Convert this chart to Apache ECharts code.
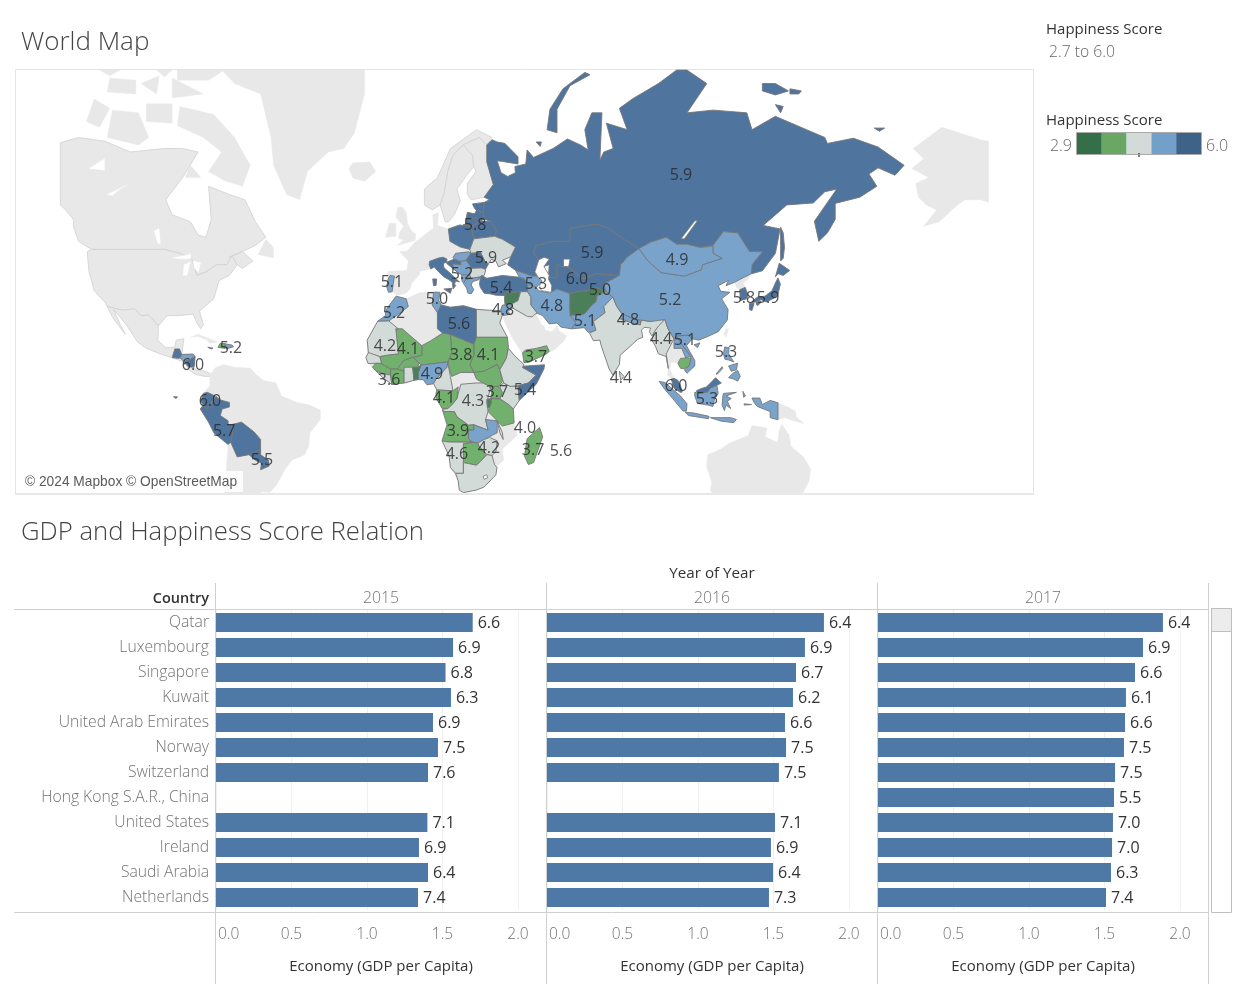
<!DOCTYPE html>
<html><head><meta charset="utf-8">
<style>html,body{margin:0;padding:0;background:#fff}#c{width:1249px;height:999px}</style>
<script src="https://cdn.jsdelivr.net/npm/echarts@6/dist/echarts.min.js"></script>
</head><body><div id="c"></div>
<script>
// ---- bar chart data ----
const countries = ['Qatar','Luxembourg','Singapore','Kuwait','United Arab Emirates','Norway','Switzerland','Hong Kong S.A.R., China','United States','Ireland','Saudi Arabia','Netherlands'];
const years = ['2015','2016','2017'];
const gdp2015 = [1.70,1.57,1.52,1.556,1.437,1.47,1.404,null,1.40,1.344,1.404,1.338];
const gdp2016 = [1.834,1.708,1.649,1.629,1.576,1.583,1.536,null,1.51,1.483,1.497,1.47];
const gdp2017 = [1.887,1.755,1.702,1.642,1.636,1.629,1.57,1.563,1.556,1.55,1.543,1.51];
const score2015 = ['6.6','6.9','6.8','6.3','6.9','7.5','7.6','','7.1','6.9','6.4','7.4'];
const score2016 = ['6.4','6.9','6.7','6.2','6.6','7.5','7.5','','7.1','6.9','6.4','7.3'];
const score2017 = ['6.4','6.9','6.6','6.1','6.6','7.5','7.5','5.5','7.0','7.0','6.3','7.4'];
const gdpTicks = [0,0.5,1,1.5,2];

// ---- map data: labels ----
const labelText = ['5.9','5.8','5.9','5.9','4.9','5.2','5.1','5.3','5.4','6.0','5.0','5.2','5.8','5.9','5.0','4.8','4.8','5.2','5.6','5.1','4.8','4.2','4.1','3.8','4.1','3.7','4.4','5.1','5.3','5.2','6.0','6.0','5.7','5.5','3.6','4.9','4.4','6.0','5.3','3.7','5.4','4.1','4.3','4.0','3.9','4.2','4.6','3.7','5.6'];
const labelLon = [103.7,24.5,28.7,69.5,102.2,19.5,-7.5,47.9,34.5,63.7,72.5,99.5,127.9,137.2,9.8,35.2,54,-6.7,18.3,66.8,83.3,-10.2,-1.3,19.1,29.5,47.9,96,105.2,121,-69.4,-84,-77.5,-72,-57.5,-8.6,7.9,80.6,101.8,113.7,32.9,43.7,12.5,23.7,43.7,17.9,29.8,17.5,46.8,57.5];
const labelLat = [64.6,55,47,48.4,46.6,42.6,40.5,39.8,38.6,41.2,38,35,35.6,35.6,35.2,31.6,33,30.8,27,28,28.4,19.2,18.2,16,16,15.2,21.8,21.4,17,18.6,12.2,-1.5,-13,-23.6,6.5,8.8,7.3,4.2,-0.8,1.9,2.7,-0.4,-1.5,-11.9,-13,-19.2,-21.4,-20,-20.4];

// ---- map data: happiness per coloured country ----
const scoredNames = ['Russia','Kazakhstan','CentralAsia','Poland','Belarus','Lithuania','Latvia','Estonia','Ukraine','Romania','Hungary','Italy','Croatia','Serbia','Albania','Greece','Bulgaria','Turkey','Caucasus','Syria','Iraq','Jordan','Yemen','Iran','Afghanistan','Pakistan','India','Nepal','SriLanka','Myanmar','Laos','Vietnam','Cambodia','China','Mongolia','SouthKorea','Japan','MalaysiaW','Sabah','Indonesia','Philippines','Portugal','Morocco','Tunisia','Libya','Egypt','Sudan','SouthSudan','Chad','Niger','Mali','Mauritania','Senegal','Guinea','Liberia','IvoryCoast','Burkina','Ghana','Benin','Nigeria','Cameroon','DRCongo','Gabon','Angola','Zambia','Malawi','Zimbabwe','Botswana','Namibia','SouthAfrica','Tanzania','Kenya','Uganda','Rwanda','Ethiopia','Somalia','Madagascar','Bolivia','Peru','Ecuador','Paraguay','Guatemala','Honduras','Nicaragua','Jamaica','Dominican','Haiti'];
const scoredValues = [5.9,5.9,6.0,5.8,5.8,5.8,5.8,5.6,4.4,5.9,5.2,5.9,5.6,5.2,5.0,5.0,4.4,5.4,5.2,3.2,4.6,5.1,3.7,4.8,3.3,5.1,4.4,4.8,4.4,4.4,5.1,5.1,3.9,5.2,4.9,5.8,5.9,6.0,5.9,5.1,5.2,5.1,5.2,5.0,5.6,4.4,4.0,3.8,3.8,4.0,4.0,4.2,4.4,3.9,4.4,3.9,4.0,4.4,3.2,4.9,4.6,4.3,4.0,3.9,5.0,4.3,4.2,3.9,4.6,4.6,3.7,4.5,3.9,3.1,4.5,5.4,3.7,5.7,5.7,6.0,5.5,6.0,5.0,6.0,5.9,5.2,3.7];
const binTops = [3.4,4.1,4.7,5.3,9];
const binFills = ['#4a7f5a','#72b06e','#d3dbd8','#7aa3cb','#4f759e'];

// ---- map outlines, longitude/latitude rings ----
const lands = {
 Canada:[[-135,69.3,-128,70,-118,69.5,-108,68,-95,68.5,-88,68.5,-82,68,-88,64,-94.5,60,-92,57,-85,55.5,-82,52.5,-79,52,-77,56,-78,62.5,-70,61,-64,60,-60,55.5,-56,52,-60,50,-70,47,-65,48.5,-61,46,-65,44,-67,45,-69,47.3,-71,45,-75,45,-79,43,-82.5,42,-84.5,46.5,-89,48,-95,49,-123,49,-128,51,-130,54.5,-130,56,-133,58,-135,59]],
 USA:[[-124.7,48.4,-123,49,-95,49,-89,48,-84.5,46.5,-82.5,42,-79,43,-75,45,-71,45,-69,47.3,-67,45,-70,42,-74,40.5,-76,35,-81.5,31,-80,26.5,-81,25,-82.5,27,-84,30,-89.5,29.5,-94,29.5,-97.3,26,-101,29.7,-104,29.5,-106.5,31.8,-111,31.3,-117,32.5,-118,34,-122,37.5,-124,43]],
 Mexico:[[-117,32.5,-111,31.3,-106.5,31.8,-104,29.5,-101,29.7,-97.3,26,-97.5,21,-94.5,18.2,-91,18.5,-90.5,21,-87.5,21.5,-88,18,-88.3,15.7,-84,15.9,-83.2,15,-83.6,11,-83,10,-79.5,9.5,-77.5,8.7,-77.5,7.5,-79.5,7.5,-83,8.3,-85.5,10,-87.5,13,-92,14.5,-96,15.8,-102,18,-105.5,20.5,-109,25.5,-112,29,-114.5,31.5,-112,26.5,-110,23,-115,29]],
 Arctic:[[-117,75.2,-106,75,-106,76.3,-116,76.5],[-92,76.5,-80,75,-92,74.6],[-104,76,-97,76.7,-98,75],[-125,72,-120,71.3,-116,73.5,-122,74.5],[-117,70,-105,69,-101,70,-105,73,-115,73.3],[-62,66,-65,62.5,-72,63.5,-78,65,-73,68,-80,70,-90,71.5,-89,73.7,-76,72.8,-68,70],[-102,72,-92,71.8,-92,74,-102,74],[-87,64,-81,64,-85,66],[-59,47.7,-53,46.8,-53,49.5,-56,51.5],[-90,76.3,-78,76.3,-72,77.2,-90,77.2],[-98,77.2,-92,77.2,-95,76.6],[-120,77.2,-112,77.2,-116,76.7]],
 Greenland:[[-73,77.2,-18,77.2,-18,75,-22,70.5,-26,68.5,-32,68,-40,65,-43,60,-48,61,-53,66,-54,70,-58,75,-68,76]],
 Iceland:[[-24,65.5,-22.5,66.4,-16,66.5,-13.7,65,-18,63.4,-22.5,63.9]],
 Alaska:[[222,59.5,219,60,213,60,210,59,203,55.5,197,54.5,202,58,198,59,195,60.5,194,63,199,64,192.5,65.5,197,67,193,68.5,204,71.3,219,69.7,222,69.5]],
 Cuba:[[-85,22,-82,23.1,-77,21.3,-74.2,20.2,-77.7,19.9,-78.5,21,-82,22.3]],
 SouthAmerica:[[-77.5,8,-75.5,10.8,-72,12,-68,11,-62,10.7,-60,8.5,-57,6,-52,5,-50,0,-44,-2.5,-39,-3.5,-35,-5.5,-35,-9,-39,-14,-39.5,-19,-41,-22,-46,-24,-48.5,-27,-52,-32.5,-54.5,-34.8,-57,-34.5,-58.5,-35,-71.8,-35,-71.5,-30,-70.5,-19,-76,-14,-81.2,-5,-80,-2.5,-80,1,-77.5,4]],
 WestEurope:[[-9,43.2,-1.8,43.4,-1.2,46,-4.6,48.4,-1.5,48.7,1.5,50.9,4,52,7,53.5,8.5,54,8.2,57,10.5,57.5,10,54.7,14.2,53.9,14.8,51,18.8,49.6,22.5,49,22,48,17,48,16,46.8,13.7,46.5,12.2,47,7,45.8,7.5,43.8,3.2,43.2,3.2,42.4,0,39.5,-0.5,38,-2,36.8,-5.5,36,-7.4,37.2,-8.8,37,-9.5,38.7]],
 Britain:[[-5.5,50,1.4,51.2,1.7,52.7,0,53.5,-1.5,55.2,-2,57.5,-3.5,58.6,-5.2,58.5,-6,56.5,-3,54.5,-4.5,53.2,-5,51.7,-3,51.3],[-10,52,-6,52.2,-6,55.2,-8.5,55.2]],
 NorwayLand:[[5,59,5,62,10,64,15,68.5,25,71,31,70,29,69,26,70,20,69,16,67.5,14,65,12.5,61,11,59,8,58]],
 SwedenLand:[[11,59,12.5,61,14,65,16,67.5,20,69,23.5,67.5,24,65.8,21.5,64.5,17.5,62,18.8,59.8,16.5,57,14.3,55.5,13,55.5]],
 FinlandLand:[[20,69,26,70,29,69,29,66.5,31.5,62.8,28,60.5,23,60,21.5,61,21.5,63,24.8,65,24,65.8,23.5,67.5]],
 Africa:[[-17,14.7,-17,21,-13,27.6,-10,29.5,-9.7,31.5,-5.9,35.8,-2,35,3,36.9,10,37.3,11,34,10.2,33.8,15,32.3,20,32.8,25,31.6,30,31.3,32.5,31.2,34.3,31.3,34.9,29.5,34,27,36.9,22,37.3,18.7,39.5,15.5,43.3,12,43,11.4,51.2,11.9,51,10.4,48,4.5,41.5,-1.7,39.2,-5,39.5,-10.3,40.7,-15,35,-20,35.5,-24,32.9,-26,32.5,-29,28,-33,25,-34,20,-34.8,18.4,-34,18,-31,15,-26.5,14.5,-22.5,11.8,-17,13.7,-11,12,-5,9.5,-1,9.5,4,8.5,4.7,6,4.3,4.5,6.3,1,6,-2,4.8,-7.5,4.4,-11,7,-13.5,9.5,-16.5,12.3]],
 Arabia:[[34.9,29.5,36.5,26,39,21.5,42.5,16.5,43.3,12.7,45,12.8,52,16,55,17.5,58.5,20.5,59.8,22.5,56.5,24.5,56.3,26.2,54,24,51.5,24.5,51,26,50,26.5,48,30,46.5,29.1,44.7,29.2,39,32,37,31,38,30]],
 Thailand:[[98.8,10.5,98,16,101,21,104,18,105.5,14.5,102.5,12.5,101,12.7,100,13,99.5,10,101,6.8,100,6.5,98.5,8]],
 NorthKorea:[[124.3,40,128,41.5,130.8,42.5,129.5,41,127.5,39.7,128.4,38.5,126.3,37.8,125,38.5]],
 Taiwan:[[120.2,23,121,25,122,25,121,22]],
 NewGuinea:[[141,-2.6,145,-4.3,147.8,-6,148,-8,151,-10.5,147,-9.5,143.5,-8.3,141,-9.1]],
 Australia:[[114,-22,113.5,-26,115.5,-31.5,115,-34.3,116,-35,150.5,-35,153,-31,153.5,-27,151,-23,146,-19,145.3,-15,142.5,-10.8,141.5,-13,140.8,-17.5,136,-15.5,136.8,-12.2,131,-11.3,129.5,-15,122,-18,119,-20]]
};
const scored = {
 Russia:[[31,69.7,33,69.4,36,69.2,41,67.3,41,66.2,35,66.6,33,66.7,34.5,64.8,37,64.2,40,64.8,39.8,65.8,44,66.2,44.5,68.3,47,67.2,54.5,68.5,60,69.8,65,69,68,68.3,66.7,71,69.4,73,73.3,73,73,71,72.5,66.8,74,68,77.6,68.5,75,71.8,83,71,80,73.5,85,74.5,95,76,102,77.2,106,77.2,113.6,76,106,73,116,73.3,129,73,131,71,140,72.6,152,71,159,70,160,69.2,170,69.9,179.5,68.7,189.5,66,186,64.4,179.5,65.6,176,64.6,179,62.5,172.5,60.5,163,59.3,163,56,160,53,156.7,51,155,55.6,163.6,62,159,61.5,154.6,59.4,144.4,59,135.3,54.7,141.8,53.9,140,48,135,43.3,130.8,42.5,131,45,135,48.4,130,48.5,125.5,53,120,53.3,116,50,111,49.5,106,50.3,102,50.3,98,52,92,50.8,87.5,49.2,83,51,77,53.5,76,54,71,55,61,54,61,51,55,51,48,50,47,48,49,46.3,47.5,43,48.5,41.8,46.5,41.8,40,43.5,37,45,38.2,47.1,40,49.6,35,51.5,32,52.2,32.7,53.4,30.8,55.5,28,56.1,27.5,57.6,28,59.5,30,60,28,60.5,31.5,62.8,29,66.5,29,69],[142,54.3,143,53,143.5,49.5,143,46.7,142,46,142,50],[52.2,71,53.3,73.4,58.3,75.5,66.7,77,68.7,76.8,61,75.8,56,73.4,56,70.6],[135,76,140,76,145,75.3,140,74.9,135,75.3],[145.6,75.5,150,75.3,149,75,145.6,75],[140,73.9,143,73.7,142,73],[48,69.4,50,69.4,49.5,68.8],[178,71.2,182,71.2,180,70.8],[20,54.9,22.5,55,22.5,54.4,20,54.4]],
 Kazakhstan:[[47,48,48,50,55,51,61,51,61,54,71,55,76,54,77,53.5,83,51,87.5,49.2,83,47,80.5,45,80,42,71,42.5,66,41,61,44,56,45,56,41.3,52.7,41.5,53,45,51,44.5,49,46.3]],
 CentralAsia:[[52.7,41.5,56,41.3,56,45,61,44,66,41,71,42.5,80,42,74,39.5,74.8,37.3,71,38.4,67,37.3,65,37.4,61,36.6,56,38,54,37.2,53,39.5]],
 Poland:[[14.2,53.9,18.5,54.8,23,54.4,24,51.6,22.5,49,18.8,49.6,14.8,51]],
 Belarus:[[23,54.4,26.5,55.7,30.8,55.5,32.7,53.4,32,52.2,24,51.6]],
 Lithuania:[[21,56,25,56.4,26.5,55.7,23,54.4,21,55.2]],
 Latvia:[[21,56,21.5,57.5,24.3,57.2,25,57.9,27.7,57.5,28,56.1,26.5,55.7,25,56.4]],
 Estonia:[[23.5,59.2,28,59.5,27.5,57.6,25,57.9,24.3,58.3]],
 Ukraine:[[22.5,49,24,51.6,32,52.2,35,51.5,40,49.6,38.2,47.1,35,46.2,36.5,45.3,33.5,44.4,32.5,46,30.7,46.4,29.6,45.2,28.2,46,26.6,48.2,22.8,48]],
 Romania:[[21,46.2,22.8,48,26.6,48.2,28.2,46,29.6,45.2,28.6,43.8,27,44.1,22.7,43.9,22.7,44.5]],
 Hungary:[[16,46.9,17,48,22,48.4,22.8,48,21,46.2,18.8,45.9,16.5,46.5]],
 Italy:[[7,45.9,10.5,46.8,12.2,47,13.7,46.5,13.5,45.7,12.3,45.3,12.5,44.2,13.6,43.5,16,41.9,18.5,40.1,17,40.4,16.6,39.5,17,39,16,38,15.7,38.2,15.8,40,14.3,40.8,12.3,41.7,10.5,43,8.8,44.4,7.5,43.8,6.8,45],[12.5,38,15.5,38.2,15,36.7],[8.2,41,9.7,41,9.5,39.1,8.5,39]],
 Croatia:[[13.6,45.3,13.6,45.7,16.5,46.5,19,45.8,19,45,16,45.2,16,44,18.5,42.5,15,44.5]],
 Serbia:[[16,45.2,19,45,19,45.8,21,46.2,22.7,44.5,22.7,43,22.5,42,20.5,42,18.5,42.5,16,44]],
 Albania:[[19.3,42.2,20.5,42.2,22.9,42,23,41.2,20.9,40.8,20,39.8,19.4,40.5]],
 Greece:[[20,39.7,20.9,40.8,23,41.2,26.3,41.6,26,40.8,23.5,40.2,23,39.2,24,37.8,23,36.5,21.7,36.8,21.2,38.3]],
 Bulgaria:[[22.7,44,27,44.1,28.6,43.6,28,42,26.3,41.6,23,41.2,22.5,42]],
 Turkey:[[26.2,39.5,26.5,41.5,27,42,29,41.2,35,42,41.5,41.5,43.5,41,44.6,39.7,44.7,37.2,42,37.2,36.5,36.8,36,36,32.5,36.1,30.5,36.5,28,36.7,26.5,38.5]],
 Caucasus:[[40,43.5,46.5,41.8,48.5,41.8,50.3,40.4,49,39.2,48,38.5,44.8,39.7,43.5,41,41.5,41.5]],
 Syria:[[36,36.8,42,37.2,41,34.4,38.8,33.4,36,33,35.8,35]],
 Iraq:[[42,37.2,44.7,37.2,46,35.5,46,33,48.5,30.3,47.5,30,46.5,29.1,44.7,29.2,39,32,38.8,33.4,41,34.4]],
 Jordan:[[34.3,31.3,35,33,36,33,38.8,33.4,39,32,37,31,38,30,35,29.5,34.9,29.5]],
 Yemen:[[42.8,16.5,43.3,12.7,45,12.8,52,16,53,17,52,19,48,18,44,17.4]],
 Iran:[[44.8,39.7,48,38.5,49,37.5,53,36.8,54,37.2,56,38,61,36.6,61,31.5,63.3,27,61.6,25,57.5,25.6,56,27,53,26.7,50.5,29.5,48.5,30.3,46,33,46,35.5,44.7,37.2]],
 Afghanistan:[[61,36.6,65,37.4,67,37.3,71,38.4,74.8,37.3,71.5,36,71,34,69.5,33,66.5,30,61,29.6,61,31.5]],
 Pakistan:[[61,29.6,66.5,30,69.5,33,71,34,71.5,36,74.8,37,77.5,35.5,74,32.5,74.5,30.5,70,27.5,71,24.5,68,23.7,66.5,25.4,61.6,25,63.3,27]],
 India:[[74,32.5,77.5,35.5,79,32.5,81,30,80,28.5,88,26.4,88.5,28,92,27.5,96,29,97,27.5,93.5,24,92.5,22.5,91.5,24,92,25.3,89.5,25.5,88.5,24.5,89,22,87,21.3,85,19.5,80.3,15.5,80,12,77.5,8,76,10.5,73,19,72.5,21,70,20.8,68.5,23.5,71,24.5,70,27.5,74.5,30.5]],
 Nepal:[[80.2,28.8,81,30.2,85,28.6,88.2,27.8,88,26.4,84,27.2]],
 SriLanka:[[80,9.5,81.8,7.5,80.5,6]],
 Myanmar:[[92.5,21,93.5,24,95,26,97.5,28.2,98.7,25,101,21.5,98,16,98.8,10.5,98,15,95,16,94,18.5]],
 Laos:[[101,21.5,102,22.3,104,19.5,107.5,15,105.5,14.5,104,18,101,18]],
 Vietnam:[[102,22.5,106.5,22.8,108,21.5,105.8,19,109,13.5,109,11.5,106,8.7,105,10,106.8,11.5,107.5,15,104,19.5]],
 Cambodia:[[102.5,12.5,103.5,14.3,105.5,14.5,107.5,14.3,106.8,11.5,105,10.4,103.5,10.6]],
 China:[[74,39.5,80,42,80.5,45,83,47,87.5,49.2,91,46,96,42.8,105,41.8,111.5,43.6,112,45,119.5,46.7,116,48,116,50,120,53.3,125.5,53,130,48.5,135,48.4,131,45,130.8,42.5,128,41.5,124.3,40,121,39,122,40.6,118,39,119,37.3,122.5,37,119.3,35,121.8,31.5,121.5,28,118,24,114,22.3,110.5,21,108,21.5,106.5,22.8,102,22.5,101,21.5,98.7,25,97.5,28.2,92,27.5,88.5,28,85,28.6,81,30.2,79,32.5,77.5,35.5,74.8,37.3],[108.7,19.3,111,20,110,18.3]],
 Mongolia:[[87.5,49.2,92,50.8,98,52,102,50.3,106,50.3,111,49.5,116,49.8,116,48,119.5,46.7,112,45,111.5,43.6,105,41.8,96,42.8,91,46]],
 SouthKorea:[[126.3,37.8,128.4,38.5,129.5,36,129,35,126.5,34.4]],
 Japan:[[130.9,34,133,35.5,136,35.8,138.7,37.5,140,39.8,141,41.3,141.9,39.5,140.9,36,139,35,136.5,34,134.5,34.7,132,33.9],[130,33.5,131.8,33.5,131,31.2,130,31.5],[132.5,33.8,134.5,34.2,134,33.4,133,32.8],[140,41.6,141.5,45.4,145.5,43.4,143,42,141,42.5]],
 MalaysiaW:[[100,6.5,101,6.8,102.5,6,103.5,4,104.2,1.5,103.4,1.4,101,3,100.4,5]],
 Sabah:[[109.6,2,111.3,2.8,113.5,3.5,115.5,5.5,117,7,119.2,5,117.5,4.1,115,3,114,1.5,110,1]],
 Indonesia:[[109,1.5,110,1,114,1.5,115,3,117.5,4.1,118,1,116.5,-1.5,116,-4,114,-3.5,110,-2.8,109,0],[95.3,5.6,97.5,5.2,103.5,0,106,-3,105.8,-5.8,104.5,-5.8,100.5,-1,97.5,2.5],[105.3,-6.2,108.5,-6.5,114.5,-7.8,114.3,-8.7,106.5,-7.5],[120,1,125,1.4,121,0,123,-1,121.5,-2,122.8,-4.8,121,-3.5,120.4,-5.6,119.5,-3.5,119.8,0],[115,-8.3,122.8,-8.3,125,-9,124,-10.2,119,-9.6],[131,-0.8,134,-0.8,135,-3.3,138,-1.7,141,-2.6,141,-9.1,138,-8.3,138,-6,133,-4,132,-2.8],[127.5,1.8,128.5,0,127.8,-0.5],[128,-3,130.8,-3.3,128,-3.5]],
 Philippines:[[120.5,18.5,122.2,18.3,122,16,124,13,122,13.7,120.6,14,120,16],[122,7,123.5,8.6,125.5,9.8,126.5,7.5,125.5,5.7,124,6.5],[122,11.5,125.5,12.5,125,10,123,9.5],[117.2,8.4,119.5,11.2,119.7,10.5,117.6,8.3]],
 Portugal:[[-9.5,38.7,-8.8,37,-7.4,37.2,-7,39.5,-6.5,41.8,-8.2,42,-8.9,41]],
 Morocco:[[-9.7,31.5,-5.9,35.8,-2,35,-1.2,32.5,-5,30,-8.7,27.7,-13,27.6,-10,29.5]],
 Tunisia:[[8.5,37,11,37,10.5,34.5,11.5,33,10,30.5,8,33,8.3,35]],
 Libya:[[10,30.5,11.5,33,15,32.3,20,32.8,25,31.6,25,20,24,19.5,15,23,12,23.5,10,25]],
 Egypt:[[25,31.6,30,31.3,32.5,31.2,34.3,31.3,34.9,29.5,34,27,36.9,22,25,22]],
 Sudan:[[24,19.5,25,22,36.9,22,37.3,18.7,36.5,14.3,34,10,33,12,28,9.5,24,9,22.5,12,24,15.5]],
 SouthSudan:[[24,9,28,9.5,33,12,34,10,35,5.5,33.5,3.7,30,3.5,27.5,5,25,6.5]],
 Chad:[[15,23,24,19.5,24,15.5,22.5,12,24,9,19,9,15.5,7.5,14,12.5,15.5,16.5]],
 Niger:[[12,23.5,15,23,15.5,16.5,14,13,3.8,11.8,3,12.5,0.5,14.5,4,15.5,4,19,7.5,20.8]],
 Mali:[[-12.2,15,-11.5,12.3,-8,10.3,-5.4,10.3,-3,13.5,0.5,14.8,4,15.5,4,19,-3.5,25,-6,25,-5,16,-9.5,15.5]],
 Mauritania:[[-16.5,16,-17,21,-13,27.6,-8.7,27.7,-5,25,-6,25,-5,16,-9.5,15.5,-12.2,15]],
 Senegal:[[-17.5,14.7,-16.5,16.5,-12.2,15,-11.5,12.5,-16.7,12.4]],
 Guinea:[[-15,11,-13.5,9.5,-11,8.6,-8,8,-8,10.3,-11.5,12.3,-13.7,12.5]],
 Liberia:[[-13.5,9.5,-11,7,-7.5,4.4,-8,8,-11,8.6]],
 IvoryCoast:[[-8,8,-7.5,4.4,-2.8,5,-2.8,9.5,-5.4,10.3,-8,10.3]],
 Burkina:[[-5.4,10.3,-2.8,9.5,2.3,11,3,12.5,0.5,14.8,-3,13.5]],
 Ghana:[[-2.8,5,1,6,0.5,11,-2.8,11]],
 Benin:[[1,6,2.7,6.3,3.8,11.8,2.3,11,0.5,11]],
 Nigeria:[[2.7,6.3,4.5,6.3,6,4.3,8.5,4.7,9.5,6.5,13.7,11,14,13,3.8,11.8,2.7,9]],
 Cameroon:[[8.5,4.7,9.8,2.3,16,2,15,7.5,14,12.5,13.7,11,9.5,6.5]],
 DRCongo:[[12.3,-6,16.5,-6,17.5,-8,22,-11.2,24,-11,28,-12.5,29.5,-13,28.5,-9,29.5,-6,29,-2.5,30.5,3.5,27.5,5,25,5,19,4.5,17.5,-1,14,-4.8,12,-5]],
 Gabon:[[9.5,1,9.8,2.3,16,2,18,3.5,17.5,-1,16,-3,14,-4.8,12,-5,9.5,-1]],
 Angola:[[12,-5.5,12.3,-6,16.5,-6,17.5,-8,22,-11.2,24,-11,24,-13,22,-13,22,-16.3,23.5,-17.5,14,-17.4,11.8,-17,13.7,-11]],
 Zambia:[[22,-13,24,-13,24,-11,28,-12.5,29.5,-13,28.5,-9,33,-9.5,33,-14,30,-15.5,28,-16.5,25.5,-17.8,23.5,-17.5,22,-16.3]],
 Malawi:[[33,-9.5,35,-14,35.3,-16.5,34,-14]],
 Zimbabwe:[[25.5,-17.8,28,-16.5,30,-15.7,33,-17,32.5,-21,31,-22.3,29,-22,26,-19]],
 Botswana:[[20,-18,23.5,-17.5,25.5,-17.8,26,-19,29,-22,26.5,-24.5,25,-25.7,20,-24.8,20,-22]],
 Namibia:[[11.8,-17,14,-17.4,23.5,-17.5,20,-18,20,-28.5,17,-28.5,15,-26.5,14.5,-22.5]],
 SouthAfrica:[[17,-28.5,20,-28.5,20,-24.8,25,-25.7,26.5,-24.5,29,-22,31,-22.3,32,-25.5,32.9,-26.5,32.5,-29,28,-33,25,-34,20,-34.8,18.4,-34,18,-31]],
 Tanzania:[[30.5,-1,34,-1,37.7,-3.5,39.2,-5,39.5,-10.3,35,-11.5,33,-9.5,29.5,-6,30.5,-2.5]],
 Kenya:[[34,-1,37.7,-3.5,39.2,-5,41.5,-1.7,41,3.9,38,3.7,35.5,5,34,4,34.8,1]],
 Uganda:[[30,3.5,33.5,3.7,35,1.5,34,-1,30.5,-1,31,2]],
 Rwanda:[[29,-1.3,30.5,-1,30.8,-2.5,30,-4.4,29.3,-4.4]],
 Ethiopia:[[36.5,14.3,37.3,18,39.5,15.5,43.3,12,43,11.4,42.8,10.9,48,8,45,5,41,3.9,38,3.7,35.5,5,34,10]],
 Somalia:[[43,11.4,51.2,11.9,51,10.4,48,4.5,41.5,-1.7,41,3.9,45,5,48,8,42.8,10.9]],
 Madagascar:[[49.3,-12,50.5,-15.5,47,-24.8,45,-25.5,43.5,-22.5,44.5,-16.2]],
 Bolivia:[[-69.5,-11,-65.3,-10,-60.5,-13.7,-58,-16.5,-58,-20,-62.5,-22,-67,-22.8,-69.5,-17.5,-69,-15,-68.7,-12.5]],
 Peru:[[-81.2,-5,-80,-3.5,-78.5,-5,-75.2,-0.2,-73.5,-1.5,-70,-2.5,-70,-4.2,-72.8,-5,-73.5,-7.5,-70.5,-9.5,-70.5,-11,-69.5,-11,-68.7,-12.5,-69,-15,-69.5,-17.5,-70.5,-18.3,-76,-14,-78,-10]],
 Ecuador:[[-80,1,-78.5,1.4,-75.5,0,-75.2,-0.2,-78.5,-5,-80,-3.5,-81,-2],[-91.5,-0.3,-90,-0.3,-90.5,-1]],
 Paraguay:[[-62.5,-22,-58,-20,-58,-22,-55,-24,-54.7,-26,-58,-27.3,-57.7,-25,-60,-24]],
 Guatemala:[[-92,14.6,-91,17.8,-89.2,17.8,-88.3,15.7,-89.3,14.3]],
 Honduras:[[-89,14.5,-88,15.8,-84,15.9,-83.2,15,-85,14,-87.5,13.2]],
 Nicaragua:[[-87.5,13,-85,14,-83.2,15,-83.6,11,-85.7,11.1]],
 Jamaica:[[-78.3,18.4,-76.3,18.1,-77,17.8]],
 Dominican:[[-71.7,19.7,-69,19.2,-68.4,18.6,-71.3,17.8]],
 Haiti:[[-73.5,19.9,-71.7,19.7,-71.7,18,-74.4,18.4]]
};
const waters = {
 Water:[[-92,46.8,-85,47.8,-84.8,46.6,-87,46.5],[-87.8,42,-86.3,42,-85,45.8,-87.5,45],[-84,46,-81,45.5,-82,43,-83.5,44],[-117,61,-109,62.8,-112,62,-115,60.8],[-124,65.5,-118,67,-118,65.2],[-99,53.5,-97,54,-96.5,50.5,-97.5,50.5]],
 Lakes:[[47.5,43,49,46.3,51,47,53,46.5,51,44.5,53,42,52.7,41,54,39,53.8,37,50,37.5,49.3,39,50.3,40.4,48.5,41.8],[103.7,51.6,105,51.6,110,55.7,109,55.7],[58.5,46.5,61,46.5,60.5,44.5,58.5,44.5],[27.5,-29.5,29,-29,29.3,-30,28,-30.5]]
};

// ---- helpers ----
const DEG = 180 / Math.PI;
const merc = lat => Math.log(Math.tan(Math.PI / 4 + lat / DEG / 2)) * DEG;
const invMerc = m => (2 * Math.atan(Math.exp(m / DEG)) - Math.PI / 2) * DEG;
const ring = flat => { const r = []; for (let i = 0; i < flat.length; i += 2) r.push([flat[i], flat[i + 1]]); r.push(r[0]); return r; };
const feature = (name, rings) => ({type:'Feature', properties:{name}, geometry:{type:'MultiPolygon', coordinates:rings.map(f => [ring(f)])}});
const binColor = v => binFills[binTops.findIndex(t => v < t)];

const features = [];
const regions = [];
Object.keys(lands).forEach(n => {
  features.push(feature(n, lands[n]));
  const ruled = ['Canada','USA','Mexico','NorwayLand','SwedenLand','FinlandLand'].includes(n);
  regions.push({name:n, itemStyle:{areaColor:'#e8e8e8', borderColor:ruled ? '#cfd1cf' : '#e8e8e8', borderWidth:ruled ? 0.8 : 0.4}});
});
scoredNames.forEach((n, i) => {
  features.push(feature(n, scored[n]));
  regions.push({name:n, itemStyle:{areaColor:binColor(scoredValues[i]), borderColor:'#767676', borderWidth:0.9}});
});
Object.keys(waters).forEach(n => {
  features.push(feature(n, waters[n]));
  regions.push({name:n, itemStyle:{areaColor:'#ffffff', borderColor:n === 'Lakes' ? '#777' : '#fff', borderWidth:n === 'Lakes' ? 0.8 : 0.2}});
});
echarts.registerMap('happyWorld', {type:'FeatureCollection', features});

// ---- layout constants ----
const FONT = '"Open Sans", sans-serif';
const panelLeft = [216, 547, 878], panelW = 330, gTop = 610, gH = 300;
const allGdp = [gdp2015, gdp2016, gdp2017], allScore = [score2015, score2016, score2017];
const dark = '#333', grey = '#737373', rule = '#cfd1d0';

const text = (x, y, t, size, fill, align, weight) => ({type:'text', x, y, silent:true, z:20,
  style:{text:t, font:`${weight || 400} ${size}px ${FONT}`, fill, textAlign:align || 'left', textVerticalAlign:'middle'}});
const line = (x1, y1, x2, y2, c, w) => ({type:'line', silent:true, z:15, shape:{x1, y1, x2, y2}, style:{stroke:c || rule, lineWidth:w || 1}});
const legendSeg = ['#33704a','#6aa765','#d2dbd8','#72a0c8','#3e6288'];

const graphic = [
  {type:'rect', z:-1, silent:true, shape:{x:15.5, y:69.5, width:1018, height:424}, style:{fill:'none', stroke:'#e4e4e4', lineWidth:1}},
  line(15, 494, 1034, 494, '#e8e8e8', 2),
  {type:'rect', z:18, silent:true, shape:{x:16, y:471, width:227, height:21}, style:{fill:'rgba(255,255,255,0.85)'}},
  {type:'text', x:25, y:482, z:20, silent:true, style:{text:'© 2024 Mapbox © OpenStreetMap', font:'13.75px "Liberation Sans", Arial, sans-serif', fill:'#5b5b5b', textVerticalAlign:'middle'}},
  text(21, 43, 'World Map', 26, '#444', 'left', 300),
  text(21, 533, 'GDP and Happiness Score Relation', 25.7, '#444', 'left', 300),
  text(1046, 30, 'Happiness Score', 15, dark),
  text(1049, 52.5, '2.7 to 6.0', 15.7, '#666', 'left', 300),
  text(1046, 121, 'Happiness Score', 15, dark),
  text(1072, 146, '2.9', 16, '#666', 'right', 300),
  text(1206, 146, '6.0', 16, '#666', 'left', 300),
  ...legendSeg.map((c, i) => ({type:'rect', silent:true, z:15, shape:{x:1077 + i * 24.8, y:133, width:24.8, height:21}, style:{fill:c}})),
  {type:'rect', silent:true, z:16, shape:{x:1076.5, y:132.5, width:125, height:22}, style:{fill:'none', stroke:'#aaa', lineWidth:1}},
  line(1139, 153, 1139, 157, '#222', 1.2),
  text(712, 573.5, 'Year of Year', 15.2, dark, 'center'),
  text(209, 598.5, 'Country', 14.5, dark, 'right', 600),
  ...years.map((y, i) => text(panelLeft[i] + 165, 598.5, y, 15.8, grey, 'center', 300)),
  line(14, 609.5, 1209, 609.5), line(14, 912.5, 1209, 912.5),
  ...[215, 546, 877, 1208].map(x => line(x + 0.5, 583, x + 0.5, 984)),
  {type:'rect', silent:true, z:15, shape:{x:1211.5, y:608.5, width:20, height:304}, style:{fill:'#fff', stroke:'#bcbfbd', lineWidth:1}},
  {type:'rect', silent:true, z:16, shape:{x:1211.5, y:608.5, width:20, height:23}, style:{fill:'#ececec', stroke:'#bcbfbd', lineWidth:1}}
];

const tickStyle = {color:grey, fontSize:15.5, fontWeight:300, fontFamily:FONT};
const option = {
  animation:false,
  textStyle:{fontFamily:FONT},
  graphic,
  geo:{
    map:'happyWorld', roam:false, silent:true,
    left:16, top:70, width:1017, height:423,
    projection:{project:p => [p[0], -merc(p[1])], unproject:p => [p[0], invMerc(-p[1])]},
    boundingCoords:[[-152.08, invMerc(125.38)], [239.08, invMerc(-37.31)]],
    itemStyle:{areaColor:'#e8e8e8', borderColor:'#e8e8e8', borderWidth:0.4},
    label:{show:false},
    regions
  },
  grid:panelLeft.map(left => ({left, top:gTop, width:panelW, height:gH, containLabel:false})),
  xAxis:panelLeft.map((_, i) => ({
    type:'value', gridIndex:i, min:0, max:panelW / 151, position:'bottom',
    interval:0.5,
    name:'Economy (GDP per Capita)', nameLocation:'middle', nameGap:49,
    nameTextStyle:{color:dark, fontSize:15, fontFamily:FONT},
    axisLine:{show:false},
    axisTick:{show:false},
    splitLine:{show:true, lineStyle:{color:'#f0f0f0', width:1}},
    axisLabel:{...tickStyle, margin:17, alignMinLabel:'left', showMaxLabel:false,
      rich:{first:{...tickStyle, padding:[0, 0, 0, 2]}},
      formatter:v => v === 0 ? '{first|0.0}' : (gdpTicks.includes(v) ? v.toFixed(1) : '')}
  })),
  yAxis:panelLeft.map((_, i) => ({
    type:'category', gridIndex:i, inverse:true, data:countries,
    axisLine:{show:false}, axisTick:{show:false}, splitLine:{show:false},
    axisLabel:{show:i === 0, interval:0, color:grey, fontSize:15.7, fontWeight:300, fontFamily:FONT, margin:7, padding:[2, 0, 0, 0]}
  })),
  series:[
    ...panelLeft.map((_, i) => ({
      type:'bar', xAxisIndex:i, yAxisIndex:i, barWidth:19, silent:true,
      itemStyle:{color:'#4e78a6'},
      data:allGdp[i],
      label:{show:true, position:'right', distance:5, offset:[0, 1], color:dark, fontSize:16, fontFamily:FONT,
        formatter:p => allScore[i][p.dataIndex]}
    })),
    {type:'scatter', coordinateSystem:'geo', geoIndex:0, symbolSize:0, silent:true, z:10,
     data:labelText.map((t, i) => ({value:[labelLon[i], labelLat[i]], name:t})),
     label:{show:true, position:'inside', offset:[0, 1.5], formatter:p => p.name, color:'#262626', fontSize:16, fontFamily:FONT}}
  ]
};
const chart = echarts.init(document.getElementById('c'), null, {renderer:'canvas', width:1249, height:999});
chart.setOption(option);
</script></body></html>
